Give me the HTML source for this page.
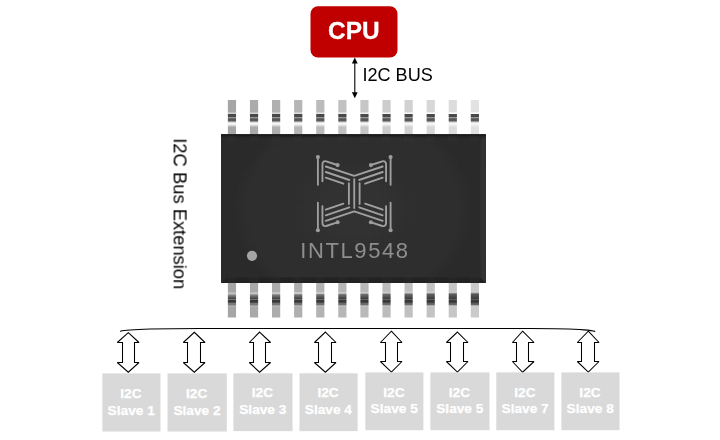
<!DOCTYPE html>
<html><head><meta charset="utf-8"><title>I2C Bus Extension</title>
<style>
html,body{margin:0;padding:0;background:#fff;}
body{width:720px;height:440px;position:relative;overflow:hidden;font-family:"Liberation Sans",sans-serif;}
</style></head><body>
<svg width="720" height="440" viewBox="0 0 720 440" style="position:absolute;left:0;top:0">
<defs>
<filter id="b0" x="-5%" y="-5%" width="110%" height="110%"><feGaussianBlur stdDeviation="0.22"/></filter>
<filter id="b1" x="-20%" y="-20%" width="140%" height="140%"><feGaussianBlur stdDeviation="0.35"/></filter>
<filter id="b2" x="-20%" y="-20%" width="140%" height="140%"><feGaussianBlur stdDeviation="0.5"/></filter>

<linearGradient id="pt0" x1="0" y1="0" x2="0" y2="1"><stop offset="0.0000" stop-color="#a6a6a6"/><stop offset="0.3509" stop-color="#a6a6a6"/><stop offset="0.3772" stop-color="#cecece"/><stop offset="0.4006" stop-color="#cecece"/><stop offset="0.4211" stop-color="#484848"/><stop offset="0.4883" stop-color="#4a4a4a"/><stop offset="0.5058" stop-color="#969696"/><stop offset="0.5292" stop-color="#969696"/><stop offset="0.5468" stop-color="#555"/><stop offset="0.6053" stop-color="#585858"/><stop offset="0.6433" stop-color="#c4c4c4"/><stop offset="0.6813" stop-color="#fbfbfb"/><stop offset="0.7105" stop-color="#f3f3f3"/><stop offset="0.7982" stop-color="#a6a6a6"/><stop offset="1.0000" stop-color="#a6a6a6"/></linearGradient>
<linearGradient id="pt1" x1="0" y1="0" x2="0" y2="1"><stop offset="0.0000" stop-color="#ababab"/><stop offset="0.3509" stop-color="#ababab"/><stop offset="0.3772" stop-color="#d3d3d3"/><stop offset="0.4006" stop-color="#d3d3d3"/><stop offset="0.4211" stop-color="#484848"/><stop offset="0.4883" stop-color="#4a4a4a"/><stop offset="0.5058" stop-color="#969696"/><stop offset="0.5292" stop-color="#969696"/><stop offset="0.5468" stop-color="#555"/><stop offset="0.6053" stop-color="#585858"/><stop offset="0.6433" stop-color="#c4c4c4"/><stop offset="0.6813" stop-color="#fbfbfb"/><stop offset="0.7105" stop-color="#f3f3f3"/><stop offset="0.7982" stop-color="#ababab"/><stop offset="1.0000" stop-color="#ababab"/></linearGradient>
<linearGradient id="pt2" x1="0" y1="0" x2="0" y2="1"><stop offset="0.0000" stop-color="#b0b0b0"/><stop offset="0.3509" stop-color="#b0b0b0"/><stop offset="0.3772" stop-color="#d8d8d8"/><stop offset="0.4006" stop-color="#d8d8d8"/><stop offset="0.4211" stop-color="#484848"/><stop offset="0.4883" stop-color="#4a4a4a"/><stop offset="0.5058" stop-color="#969696"/><stop offset="0.5292" stop-color="#969696"/><stop offset="0.5468" stop-color="#555"/><stop offset="0.6053" stop-color="#585858"/><stop offset="0.6433" stop-color="#c4c4c4"/><stop offset="0.6813" stop-color="#fbfbfb"/><stop offset="0.7105" stop-color="#f3f3f3"/><stop offset="0.7982" stop-color="#b0b0b0"/><stop offset="1.0000" stop-color="#b0b0b0"/></linearGradient>
<linearGradient id="pt3" x1="0" y1="0" x2="0" y2="1"><stop offset="0.0000" stop-color="#b6b6b6"/><stop offset="0.3509" stop-color="#b6b6b6"/><stop offset="0.3772" stop-color="#dedede"/><stop offset="0.4006" stop-color="#dedede"/><stop offset="0.4211" stop-color="#484848"/><stop offset="0.4883" stop-color="#4a4a4a"/><stop offset="0.5058" stop-color="#969696"/><stop offset="0.5292" stop-color="#969696"/><stop offset="0.5468" stop-color="#555"/><stop offset="0.6053" stop-color="#585858"/><stop offset="0.6433" stop-color="#c4c4c4"/><stop offset="0.6813" stop-color="#fbfbfb"/><stop offset="0.7105" stop-color="#f3f3f3"/><stop offset="0.7982" stop-color="#b6b6b6"/><stop offset="1.0000" stop-color="#b6b6b6"/></linearGradient>
<linearGradient id="pt4" x1="0" y1="0" x2="0" y2="1"><stop offset="0.0000" stop-color="#bbbbbb"/><stop offset="0.3509" stop-color="#bbbbbb"/><stop offset="0.3772" stop-color="#e3e3e3"/><stop offset="0.4006" stop-color="#e3e3e3"/><stop offset="0.4211" stop-color="#484848"/><stop offset="0.4883" stop-color="#4a4a4a"/><stop offset="0.5058" stop-color="#969696"/><stop offset="0.5292" stop-color="#969696"/><stop offset="0.5468" stop-color="#555"/><stop offset="0.6053" stop-color="#585858"/><stop offset="0.6433" stop-color="#c4c4c4"/><stop offset="0.6813" stop-color="#fbfbfb"/><stop offset="0.7105" stop-color="#f3f3f3"/><stop offset="0.7982" stop-color="#bbbbbb"/><stop offset="1.0000" stop-color="#bbbbbb"/></linearGradient>
<linearGradient id="pt5" x1="0" y1="0" x2="0" y2="1"><stop offset="0.0000" stop-color="#c1c1c1"/><stop offset="0.3509" stop-color="#c1c1c1"/><stop offset="0.3772" stop-color="#e9e9e9"/><stop offset="0.4006" stop-color="#e9e9e9"/><stop offset="0.4211" stop-color="#484848"/><stop offset="0.4883" stop-color="#4a4a4a"/><stop offset="0.5058" stop-color="#969696"/><stop offset="0.5292" stop-color="#969696"/><stop offset="0.5468" stop-color="#555"/><stop offset="0.6053" stop-color="#585858"/><stop offset="0.6433" stop-color="#c4c4c4"/><stop offset="0.6813" stop-color="#fbfbfb"/><stop offset="0.7105" stop-color="#f3f3f3"/><stop offset="0.7982" stop-color="#c1c1c1"/><stop offset="1.0000" stop-color="#c1c1c1"/></linearGradient>
<linearGradient id="pt6" x1="0" y1="0" x2="0" y2="1"><stop offset="0.0000" stop-color="#c6c6c6"/><stop offset="0.3509" stop-color="#c6c6c6"/><stop offset="0.3772" stop-color="#eeeeee"/><stop offset="0.4006" stop-color="#eeeeee"/><stop offset="0.4211" stop-color="#484848"/><stop offset="0.4883" stop-color="#4a4a4a"/><stop offset="0.5058" stop-color="#969696"/><stop offset="0.5292" stop-color="#969696"/><stop offset="0.5468" stop-color="#555"/><stop offset="0.6053" stop-color="#585858"/><stop offset="0.6433" stop-color="#c4c4c4"/><stop offset="0.6813" stop-color="#fbfbfb"/><stop offset="0.7105" stop-color="#f3f3f3"/><stop offset="0.7982" stop-color="#c6c6c6"/><stop offset="1.0000" stop-color="#c6c6c6"/></linearGradient>
<linearGradient id="pt7" x1="0" y1="0" x2="0" y2="1"><stop offset="0.0000" stop-color="#cccccc"/><stop offset="0.3509" stop-color="#cccccc"/><stop offset="0.3772" stop-color="#f4f4f4"/><stop offset="0.4006" stop-color="#f4f4f4"/><stop offset="0.4211" stop-color="#484848"/><stop offset="0.4883" stop-color="#4a4a4a"/><stop offset="0.5058" stop-color="#969696"/><stop offset="0.5292" stop-color="#969696"/><stop offset="0.5468" stop-color="#555"/><stop offset="0.6053" stop-color="#585858"/><stop offset="0.6433" stop-color="#c4c4c4"/><stop offset="0.6813" stop-color="#fbfbfb"/><stop offset="0.7105" stop-color="#f3f3f3"/><stop offset="0.7982" stop-color="#cccccc"/><stop offset="1.0000" stop-color="#cccccc"/></linearGradient>
<linearGradient id="pt8" x1="0" y1="0" x2="0" y2="1"><stop offset="0.0000" stop-color="#d1d1d1"/><stop offset="0.3509" stop-color="#d1d1d1"/><stop offset="0.3772" stop-color="#f9f9f9"/><stop offset="0.4006" stop-color="#f9f9f9"/><stop offset="0.4211" stop-color="#484848"/><stop offset="0.4883" stop-color="#4a4a4a"/><stop offset="0.5058" stop-color="#969696"/><stop offset="0.5292" stop-color="#969696"/><stop offset="0.5468" stop-color="#555"/><stop offset="0.6053" stop-color="#585858"/><stop offset="0.6433" stop-color="#c4c4c4"/><stop offset="0.6813" stop-color="#fbfbfb"/><stop offset="0.7105" stop-color="#f3f3f3"/><stop offset="0.7982" stop-color="#d1d1d1"/><stop offset="1.0000" stop-color="#d1d1d1"/></linearGradient>
<linearGradient id="pt9" x1="0" y1="0" x2="0" y2="1"><stop offset="0.0000" stop-color="#d7d7d7"/><stop offset="0.3509" stop-color="#d7d7d7"/><stop offset="0.3772" stop-color="#ffffff"/><stop offset="0.4006" stop-color="#ffffff"/><stop offset="0.4211" stop-color="#484848"/><stop offset="0.4883" stop-color="#4a4a4a"/><stop offset="0.5058" stop-color="#969696"/><stop offset="0.5292" stop-color="#969696"/><stop offset="0.5468" stop-color="#555"/><stop offset="0.6053" stop-color="#585858"/><stop offset="0.6433" stop-color="#c4c4c4"/><stop offset="0.6813" stop-color="#fbfbfb"/><stop offset="0.7105" stop-color="#f3f3f3"/><stop offset="0.7982" stop-color="#d7d7d7"/><stop offset="1.0000" stop-color="#d7d7d7"/></linearGradient>
<linearGradient id="pt10" x1="0" y1="0" x2="0" y2="1"><stop offset="0.0000" stop-color="#dcdcdc"/><stop offset="0.3509" stop-color="#dcdcdc"/><stop offset="0.3772" stop-color="#ffffff"/><stop offset="0.4006" stop-color="#ffffff"/><stop offset="0.4211" stop-color="#484848"/><stop offset="0.4883" stop-color="#4a4a4a"/><stop offset="0.5058" stop-color="#969696"/><stop offset="0.5292" stop-color="#969696"/><stop offset="0.5468" stop-color="#555"/><stop offset="0.6053" stop-color="#585858"/><stop offset="0.6433" stop-color="#c4c4c4"/><stop offset="0.6813" stop-color="#fbfbfb"/><stop offset="0.7105" stop-color="#f3f3f3"/><stop offset="0.7982" stop-color="#dcdcdc"/><stop offset="1.0000" stop-color="#dcdcdc"/></linearGradient>
<linearGradient id="pt11" x1="0" y1="0" x2="0" y2="1"><stop offset="0.0000" stop-color="#e2e2e2"/><stop offset="0.3509" stop-color="#e2e2e2"/><stop offset="0.3772" stop-color="#ffffff"/><stop offset="0.4006" stop-color="#ffffff"/><stop offset="0.4211" stop-color="#484848"/><stop offset="0.4883" stop-color="#4a4a4a"/><stop offset="0.5058" stop-color="#969696"/><stop offset="0.5292" stop-color="#969696"/><stop offset="0.5468" stop-color="#555"/><stop offset="0.6053" stop-color="#585858"/><stop offset="0.6433" stop-color="#c4c4c4"/><stop offset="0.6813" stop-color="#fbfbfb"/><stop offset="0.7105" stop-color="#f3f3f3"/><stop offset="0.7982" stop-color="#e2e2e2"/><stop offset="1.0000" stop-color="#e2e2e2"/></linearGradient>
<linearGradient id="pb0" x1="0" y1="0" x2="0" y2="1"><stop offset="0.0000" stop-color="#a6a6a6"/><stop offset="0.2817" stop-color="#a6a6a6"/><stop offset="0.3042" stop-color="#c2c2c2"/><stop offset="0.3380" stop-color="#c2c2c2"/><stop offset="0.3662" stop-color="#8a8a8a"/><stop offset="0.4676" stop-color="#464646"/><stop offset="0.4930" stop-color="#747474"/><stop offset="0.5183" stop-color="#3a3a3a"/><stop offset="0.5690" stop-color="#343434"/><stop offset="0.5887" stop-color="#777777"/><stop offset="0.6535" stop-color="#7c7c7c"/><stop offset="0.6732" stop-color="#c2c2c2"/><stop offset="0.6986" stop-color="#a6a6a6"/><stop offset="1.0000" stop-color="#a6a6a6"/></linearGradient>
<linearGradient id="pb1" x1="0" y1="0" x2="0" y2="1"><stop offset="0.0000" stop-color="#a9a9a9"/><stop offset="0.2791" stop-color="#a9a9a9"/><stop offset="0.3012" stop-color="#c5c5c5"/><stop offset="0.3337" stop-color="#c5c5c5"/><stop offset="0.3636" stop-color="#858585"/><stop offset="0.4676" stop-color="#454545"/><stop offset="0.4930" stop-color="#717171"/><stop offset="0.5183" stop-color="#3a3a3a"/><stop offset="0.5690" stop-color="#343434"/><stop offset="0.5887" stop-color="#737373"/><stop offset="0.6520" stop-color="#7a7a7a"/><stop offset="0.6732" stop-color="#c5c5c5"/><stop offset="0.6986" stop-color="#a9a9a9"/><stop offset="1.0000" stop-color="#a9a9a9"/></linearGradient>
<linearGradient id="pb2" x1="0" y1="0" x2="0" y2="1"><stop offset="0.0000" stop-color="#acacac"/><stop offset="0.2766" stop-color="#acacac"/><stop offset="0.2981" stop-color="#c8c8c8"/><stop offset="0.3293" stop-color="#c8c8c8"/><stop offset="0.3611" stop-color="#818181"/><stop offset="0.4676" stop-color="#444444"/><stop offset="0.4930" stop-color="#6f6f6f"/><stop offset="0.5183" stop-color="#3a3a3a"/><stop offset="0.5690" stop-color="#343434"/><stop offset="0.5887" stop-color="#707070"/><stop offset="0.6504" stop-color="#787878"/><stop offset="0.6732" stop-color="#c8c8c8"/><stop offset="0.6986" stop-color="#acacac"/><stop offset="1.0000" stop-color="#acacac"/></linearGradient>
<linearGradient id="pb3" x1="0" y1="0" x2="0" y2="1"><stop offset="0.0000" stop-color="#afafaf"/><stop offset="0.2740" stop-color="#afafaf"/><stop offset="0.2950" stop-color="#cbcbcb"/><stop offset="0.3250" stop-color="#cbcbcb"/><stop offset="0.3585" stop-color="#7c7c7c"/><stop offset="0.4676" stop-color="#434343"/><stop offset="0.4930" stop-color="#6c6c6c"/><stop offset="0.5183" stop-color="#3a3a3a"/><stop offset="0.5690" stop-color="#343434"/><stop offset="0.5887" stop-color="#6d6d6d"/><stop offset="0.6489" stop-color="#767676"/><stop offset="0.6732" stop-color="#cbcbcb"/><stop offset="0.6986" stop-color="#afafaf"/><stop offset="1.0000" stop-color="#afafaf"/></linearGradient>
<linearGradient id="pb4" x1="0" y1="0" x2="0" y2="1"><stop offset="0.0000" stop-color="#b3b3b3"/><stop offset="0.2714" stop-color="#b3b3b3"/><stop offset="0.2919" stop-color="#cccccc"/><stop offset="0.3206" stop-color="#cccccc"/><stop offset="0.3560" stop-color="#787878"/><stop offset="0.4676" stop-color="#424242"/><stop offset="0.4930" stop-color="#6a6a6a"/><stop offset="0.5183" stop-color="#3a3a3a"/><stop offset="0.5690" stop-color="#343434"/><stop offset="0.5887" stop-color="#6a6a6a"/><stop offset="0.6474" stop-color="#747474"/><stop offset="0.6732" stop-color="#cccccc"/><stop offset="0.6986" stop-color="#b3b3b3"/><stop offset="1.0000" stop-color="#b3b3b3"/></linearGradient>
<linearGradient id="pb5" x1="0" y1="0" x2="0" y2="1"><stop offset="0.0000" stop-color="#b6b6b6"/><stop offset="0.2689" stop-color="#b6b6b6"/><stop offset="0.2889" stop-color="#cccccc"/><stop offset="0.3163" stop-color="#cccccc"/><stop offset="0.3534" stop-color="#747474"/><stop offset="0.4676" stop-color="#414141"/><stop offset="0.4930" stop-color="#686868"/><stop offset="0.5183" stop-color="#3a3a3a"/><stop offset="0.5690" stop-color="#343434"/><stop offset="0.5887" stop-color="#676767"/><stop offset="0.6458" stop-color="#727272"/><stop offset="0.6732" stop-color="#cccccc"/><stop offset="0.6986" stop-color="#b6b6b6"/><stop offset="1.0000" stop-color="#b6b6b6"/></linearGradient>
<linearGradient id="pb6" x1="0" y1="0" x2="0" y2="1"><stop offset="0.0000" stop-color="#b9b9b9"/><stop offset="0.2663" stop-color="#b9b9b9"/><stop offset="0.2858" stop-color="#cccccc"/><stop offset="0.3119" stop-color="#cccccc"/><stop offset="0.3508" stop-color="#6f6f6f"/><stop offset="0.4676" stop-color="#404040"/><stop offset="0.4930" stop-color="#656565"/><stop offset="0.5183" stop-color="#3a3a3a"/><stop offset="0.5690" stop-color="#343434"/><stop offset="0.5887" stop-color="#646464"/><stop offset="0.6443" stop-color="#707070"/><stop offset="0.6732" stop-color="#cccccc"/><stop offset="0.6986" stop-color="#b9b9b9"/><stop offset="1.0000" stop-color="#b9b9b9"/></linearGradient>
<linearGradient id="pb7" x1="0" y1="0" x2="0" y2="1"><stop offset="0.0000" stop-color="#bcbcbc"/><stop offset="0.2638" stop-color="#bcbcbc"/><stop offset="0.2827" stop-color="#cccccc"/><stop offset="0.3076" stop-color="#cccccc"/><stop offset="0.3483" stop-color="#6b6b6b"/><stop offset="0.4676" stop-color="#3f3f3f"/><stop offset="0.4930" stop-color="#636363"/><stop offset="0.5183" stop-color="#3a3a3a"/><stop offset="0.5690" stop-color="#343434"/><stop offset="0.5887" stop-color="#616161"/><stop offset="0.6428" stop-color="#6e6e6e"/><stop offset="0.6732" stop-color="#cccccc"/><stop offset="0.6986" stop-color="#bcbcbc"/><stop offset="1.0000" stop-color="#bcbcbc"/></linearGradient>
<linearGradient id="pb8" x1="0" y1="0" x2="0" y2="1"><stop offset="0.0000" stop-color="#c0c0c0"/><stop offset="0.2612" stop-color="#c0c0c0"/><stop offset="0.2796" stop-color="#cccccc"/><stop offset="0.3032" stop-color="#cccccc"/><stop offset="0.3457" stop-color="#676767"/><stop offset="0.4676" stop-color="#3e3e3e"/><stop offset="0.4930" stop-color="#616161"/><stop offset="0.5183" stop-color="#3a3a3a"/><stop offset="0.5690" stop-color="#343434"/><stop offset="0.5887" stop-color="#5e5e5e"/><stop offset="0.6412" stop-color="#6c6c6c"/><stop offset="0.6732" stop-color="#cccccc"/><stop offset="0.6986" stop-color="#c0c0c0"/><stop offset="1.0000" stop-color="#c0c0c0"/></linearGradient>
<linearGradient id="pb9" x1="0" y1="0" x2="0" y2="1"><stop offset="0.0000" stop-color="#c3c3c3"/><stop offset="0.2586" stop-color="#c3c3c3"/><stop offset="0.2766" stop-color="#cccccc"/><stop offset="0.2988" stop-color="#cccccc"/><stop offset="0.3431" stop-color="#626262"/><stop offset="0.4676" stop-color="#3d3d3d"/><stop offset="0.4930" stop-color="#5e5e5e"/><stop offset="0.5183" stop-color="#3a3a3a"/><stop offset="0.5690" stop-color="#343434"/><stop offset="0.5887" stop-color="#5b5b5b"/><stop offset="0.6397" stop-color="#6a6a6a"/><stop offset="0.6732" stop-color="#cccccc"/><stop offset="0.6986" stop-color="#c3c3c3"/><stop offset="1.0000" stop-color="#c3c3c3"/></linearGradient>
<linearGradient id="pb10" x1="0" y1="0" x2="0" y2="1"><stop offset="0.0000" stop-color="#c6c6c6"/><stop offset="0.2561" stop-color="#c6c6c6"/><stop offset="0.2735" stop-color="#cccccc"/><stop offset="0.2945" stop-color="#cccccc"/><stop offset="0.3406" stop-color="#5e5e5e"/><stop offset="0.4676" stop-color="#3c3c3c"/><stop offset="0.4930" stop-color="#5c5c5c"/><stop offset="0.5183" stop-color="#3a3a3a"/><stop offset="0.5690" stop-color="#343434"/><stop offset="0.5887" stop-color="#585858"/><stop offset="0.6382" stop-color="#686868"/><stop offset="0.6732" stop-color="#cccccc"/><stop offset="0.6986" stop-color="#c6c6c6"/><stop offset="1.0000" stop-color="#c6c6c6"/></linearGradient>
<linearGradient id="pb11" x1="0" y1="0" x2="0" y2="1"><stop offset="0.0000" stop-color="#cacaca"/><stop offset="0.2535" stop-color="#cacaca"/><stop offset="0.2704" stop-color="#cccccc"/><stop offset="0.2901" stop-color="#cccccc"/><stop offset="0.3380" stop-color="#5a5a5a"/><stop offset="0.4676" stop-color="#3c3c3c"/><stop offset="0.4930" stop-color="#5a5a5a"/><stop offset="0.5183" stop-color="#3a3a3a"/><stop offset="0.5690" stop-color="#343434"/><stop offset="0.5887" stop-color="#555555"/><stop offset="0.6366" stop-color="#666666"/><stop offset="0.6732" stop-color="#cccccc"/><stop offset="0.6986" stop-color="#cacaca"/><stop offset="1.0000" stop-color="#cacaca"/></linearGradient>
<linearGradient id="topg" x1="0" y1="0" x2="0" y2="1"><stop offset="0" stop-color="#1a1a1a" stop-opacity="1"/><stop offset="0.3" stop-color="#1c1c1c" stop-opacity="0.85"/><stop offset="1" stop-color="#222" stop-opacity="0"/></linearGradient>
<radialGradient id="chipg" cx="0.5" cy="0.5" r="0.62" gradientTransform="translate(0.5 0.5) scale(1 1.5) translate(-0.5 -0.5)">
<stop offset="0" stop-color="#313131"/><stop offset="0.55" stop-color="#2e2e2e"/><stop offset="1" stop-color="#292929"/></radialGradient>
</defs>
<rect x="310.5" y="6.3" width="87" height="51.2" rx="7.5" ry="7.5" fill="#c00000"/>
<text x="353.8" y="38.75" font-family="Liberation Sans, sans-serif" font-weight="bold" font-size="24.4" fill="#fff" stroke="#fff" stroke-width="0.3" text-anchor="middle" filter="url(#b0)">CPU</text>
<line x1="354.8" y1="62" x2="354.8" y2="94" stroke="#000" stroke-width="1.1"/>
<path d="M354.8 57.6 L351.9 63.4 L357.7 63.4 Z" fill="#000"/>
<path d="M354.8 98.2 L351.9 92.2 L357.7 92.2 Z" fill="#000"/>
<text x="362.4" y="80.7" font-family="Liberation Sans, sans-serif" font-size="18.1" fill="#000" filter="url(#b0)">I2C BUS</text>
<g filter="url(#b1)">
<rect x="227.85" y="100" width="8.2" height="34.2" fill="url(#pt0)"/>
<rect x="249.94" y="100" width="8.2" height="34.2" fill="url(#pt1)"/>
<rect x="272.02" y="100" width="8.2" height="34.2" fill="url(#pt2)"/>
<rect x="294.11" y="100" width="8.2" height="34.2" fill="url(#pt3)"/>
<rect x="316.19" y="100" width="8.2" height="34.2" fill="url(#pt4)"/>
<rect x="338.27" y="100" width="8.2" height="34.2" fill="url(#pt5)"/>
<rect x="360.36" y="100" width="8.2" height="34.2" fill="url(#pt6)"/>
<rect x="382.44" y="100" width="8.2" height="34.2" fill="url(#pt7)"/>
<rect x="404.53" y="100" width="8.2" height="34.2" fill="url(#pt8)"/>
<rect x="426.62" y="100" width="8.2" height="34.2" fill="url(#pt9)"/>
<rect x="448.70" y="100" width="8.2" height="34.2" fill="url(#pt10)"/>
<rect x="470.78" y="100" width="8.2" height="34.2" fill="url(#pt11)"/>
<rect x="227.85" y="282" width="8.2" height="35.5" fill="url(#pb0)"/>
<rect x="249.94" y="282" width="8.2" height="35.5" fill="url(#pb1)"/>
<rect x="272.02" y="282" width="8.2" height="35.5" fill="url(#pb2)"/>
<rect x="294.11" y="282" width="8.2" height="35.5" fill="url(#pb3)"/>
<rect x="316.19" y="282" width="8.2" height="35.5" fill="url(#pb4)"/>
<rect x="338.27" y="282" width="8.2" height="35.5" fill="url(#pb5)"/>
<rect x="360.36" y="282" width="8.2" height="35.5" fill="url(#pb6)"/>
<rect x="382.44" y="282" width="8.2" height="35.5" fill="url(#pb7)"/>
<rect x="404.53" y="282" width="8.2" height="35.5" fill="url(#pb8)"/>
<rect x="426.62" y="282" width="8.2" height="35.5" fill="url(#pb9)"/>
<rect x="448.70" y="282" width="8.2" height="35.5" fill="url(#pb10)"/>
<rect x="470.78" y="282" width="8.2" height="35.5" fill="url(#pb11)"/>
</g>
<g filter="url(#b1)">
<rect x="221" y="134.2" width="264.9" height="148.8" fill="url(#chipg)"/>
<path d="M221 283 L485.9 283 L480.4 277.6 L226.5 277.6 Z" fill="#232323"/>
<path d="M485.9 134.2 L485.9 283 L480.4 277.6 L480.4 139 Z" fill="#303030"/>
<path d="M221 134.2 L221 283 L226.5 277.6 L226.5 139 Z" fill="#292929"/>
<rect x="221" y="134.2" width="264.9" height="4.5" fill="url(#topg)"/>
</g>
<rect x="227.35" y="135.6" width="8.8" height="6" fill="#3a3a3a" opacity="0.22" filter="url(#b2)"/>
<rect x="249.44" y="135.6" width="8.8" height="6" fill="#3a3a3a" opacity="0.22" filter="url(#b2)"/>
<rect x="271.52" y="135.6" width="8.8" height="6" fill="#3a3a3a" opacity="0.22" filter="url(#b2)"/>
<rect x="293.61" y="135.6" width="8.8" height="6" fill="#3a3a3a" opacity="0.22" filter="url(#b2)"/>
<rect x="315.69" y="135.6" width="8.8" height="6" fill="#3a3a3a" opacity="0.22" filter="url(#b2)"/>
<rect x="337.77" y="135.6" width="8.8" height="6" fill="#3a3a3a" opacity="0.22" filter="url(#b2)"/>
<rect x="359.86" y="135.6" width="8.8" height="6" fill="#3a3a3a" opacity="0.22" filter="url(#b2)"/>
<rect x="381.94" y="135.6" width="8.8" height="6" fill="#3a3a3a" opacity="0.22" filter="url(#b2)"/>
<rect x="404.03" y="135.6" width="8.8" height="6" fill="#3a3a3a" opacity="0.22" filter="url(#b2)"/>
<rect x="426.12" y="135.6" width="8.8" height="6" fill="#3a3a3a" opacity="0.22" filter="url(#b2)"/>
<rect x="448.20" y="135.6" width="8.8" height="6" fill="#3a3a3a" opacity="0.22" filter="url(#b2)"/>
<rect x="470.28" y="135.6" width="8.8" height="6" fill="#3a3a3a" opacity="0.22" filter="url(#b2)"/>
<rect x="227.35" y="277" width="8.8" height="5.5" fill="#363636" opacity="0.2" filter="url(#b2)"/>
<rect x="249.44" y="277" width="8.8" height="5.5" fill="#363636" opacity="0.2" filter="url(#b2)"/>
<rect x="271.52" y="277" width="8.8" height="5.5" fill="#363636" opacity="0.2" filter="url(#b2)"/>
<rect x="293.61" y="277" width="8.8" height="5.5" fill="#363636" opacity="0.2" filter="url(#b2)"/>
<rect x="315.69" y="277" width="8.8" height="5.5" fill="#363636" opacity="0.2" filter="url(#b2)"/>
<rect x="337.77" y="277" width="8.8" height="5.5" fill="#363636" opacity="0.2" filter="url(#b2)"/>
<rect x="359.86" y="277" width="8.8" height="5.5" fill="#363636" opacity="0.2" filter="url(#b2)"/>
<rect x="381.94" y="277" width="8.8" height="5.5" fill="#363636" opacity="0.2" filter="url(#b2)"/>
<rect x="404.03" y="277" width="8.8" height="5.5" fill="#363636" opacity="0.2" filter="url(#b2)"/>
<rect x="426.12" y="277" width="8.8" height="5.5" fill="#363636" opacity="0.2" filter="url(#b2)"/>
<rect x="448.20" y="277" width="8.8" height="5.5" fill="#363636" opacity="0.2" filter="url(#b2)"/>
<rect x="470.28" y="277" width="8.8" height="5.5" fill="#363636" opacity="0.2" filter="url(#b2)"/>
<circle cx="252.0" cy="255.8" r="5.1" fill="#a5a5a5" filter="url(#b1)"/>
<g filter="url(#b1)">
<path d="M317.90 157.10 L317.90 184.70 M322.45 181.20 L322.45 164.60 Q322.45 160.60 326.20 161.30 L337.40 165.00 M325.80 166.50 L354.25 175.90 M325.80 172.00 L349.30 180.00 M325.80 177.60 L343.40 183.70 M348.90 183.20 L348.90 193.65 M317.90 230.20 L317.90 202.60 M322.45 206.10 L322.45 222.70 Q322.45 226.70 326.20 226.00 L337.40 222.30 M325.80 220.80 L354.25 211.40 M325.80 215.30 L349.30 207.30 M325.80 209.70 L343.40 203.60 M348.90 204.10 L348.90 193.65 M390.60 157.10 L390.60 184.70 M386.05 181.20 L386.05 164.60 Q386.05 160.60 382.30 161.30 L371.10 165.00 M382.70 166.50 L354.25 175.90 M382.70 172.00 L359.20 180.00 M382.70 177.60 L365.10 183.70 M359.60 183.20 L359.60 193.65 M390.60 230.20 L390.60 202.60 M386.05 206.10 L386.05 222.70 Q386.05 226.70 382.30 226.00 L371.10 222.30 M382.70 220.80 L354.25 211.40 M382.70 215.30 L359.20 207.30 M382.70 209.70 L365.10 203.60 M359.60 204.10 L359.60 193.65 M354.25 179.2 L354.25 208.1" fill="none" stroke="#a0a0a0" stroke-width="1.85" stroke-linecap="round" stroke-linejoin="round"/>
<circle cx="317.90" cy="157.10" r="2.05" fill="#9c9c9c"/>
<circle cx="337.60" cy="165.10" r="2.05" fill="#9c9c9c"/>
<circle cx="317.90" cy="230.20" r="2.05" fill="#9c9c9c"/>
<circle cx="337.60" cy="222.20" r="2.05" fill="#9c9c9c"/>
<circle cx="390.60" cy="157.10" r="2.05" fill="#9c9c9c"/>
<circle cx="370.90" cy="165.10" r="2.05" fill="#9c9c9c"/>
<circle cx="390.60" cy="230.20" r="2.05" fill="#9c9c9c"/>
<circle cx="370.90" cy="222.20" r="2.05" fill="#9c9c9c"/>
</g>
<text x="355" y="257.8" font-family="Liberation Sans, sans-serif" font-size="22" fill="#8e8e8e" text-anchor="middle" letter-spacing="1.6" filter="url(#b1)">INTL9548</text>
<text transform="translate(173.6,138.3) rotate(90)" font-family="Liberation Sans, sans-serif" font-size="18.37" fill="#000" filter="url(#b0)">I2C Bus Extension</text>
<path d="M120.4 331.2 C124 330.2 135 329.5 150 329.05 C165 328.65 180 328.5 200 328.5 L530 328.5 C555 328.5 572 328.9 584 329.9 C590 330.4 593 330.8 594.7 331.4" fill="none" stroke="#000" stroke-width="1.15" stroke-linecap="round"/>
<path d="M128.3 332.65 L139.0 342.5 L134.5 342.5 L134.5 362.5 L139.0 362.5 L128.3 372.25 L117.3 362.5 L122.5 362.5 L122.5 342.5 L117.3 342.5 Z" fill="#fff" stroke="#000" stroke-width="1.05" stroke-linejoin="miter" stroke-miterlimit="2"/>
<path d="M194.3 332.25 L205.0 342.5 L200.5 342.5 L200.5 362.5 L205.0 362.5 L194.3 372.25 L183.3 362.5 L187.5 362.5 L187.5 342.5 L183.3 342.5 Z" fill="#fff" stroke="#000" stroke-width="1.05" stroke-linejoin="miter" stroke-miterlimit="2"/>
<path d="M259.6 332.04999999999995 L270.6 342.5 L265.5 342.5 L265.5 362.5 L270.6 362.5 L259.6 372.25 L249.3 362.5 L253.5 362.5 L253.5 342.5 L249.3 342.5 Z" fill="#fff" stroke="#000" stroke-width="1.05" stroke-linejoin="miter" stroke-miterlimit="2"/>
<path d="M325.4 332.04999999999995 L336.0 342.5 L331.5 342.5 L331.5 362.5 L336.0 362.5 L325.4 372.25 L314.4 362.5 L318.5 362.5 L318.5 342.5 L314.4 342.5 Z" fill="#fff" stroke="#000" stroke-width="1.05" stroke-linejoin="miter" stroke-miterlimit="2"/>
<path d="M391.4 331.15 L402.0 342.5 L397.5 342.5 L397.5 361.5 L402.0 361.5 L391.4 372.05 L380.4 361.5 L385.5 361.5 L385.5 342.5 L380.4 342.5 Z" fill="#fff" stroke="#000" stroke-width="1.05" stroke-linejoin="miter" stroke-miterlimit="2"/>
<path d="M457.4 332.04999999999995 L468.0 342.5 L463.5 342.5 L463.5 361.5 L468.0 361.5 L457.4 372.05 L446.4 361.5 L450.5 361.5 L450.5 342.5 L446.4 342.5 Z" fill="#fff" stroke="#000" stroke-width="1.05" stroke-linejoin="miter" stroke-miterlimit="2"/>
<path d="M522.6 331.15 L534.0 342.5 L528.5 342.5 L528.5 361.5 L534.0 361.5 L522.6 372.25 L512.4 361.5 L516.5 361.5 L516.5 342.5 L512.4 342.5 Z" fill="#fff" stroke="#000" stroke-width="1.05" stroke-linejoin="miter" stroke-miterlimit="2"/>
<path d="M588.3 331.15 L599.0 342.5 L594.5 342.5 L594.5 361.5 L599.0 361.5 L588.3 372.05 L577.3 361.5 L581.5 361.5 L581.5 342.5 L577.3 342.5 Z" fill="#fff" stroke="#000" stroke-width="1.05" stroke-linejoin="miter" stroke-miterlimit="2"/>
<rect x="102.4" y="373.4" width="58.1" height="58.1" fill="#d9d9d9"/>
<text x="130.9" y="398.2" font-family="Liberation Sans, sans-serif" font-weight="bold" font-size="13.7" fill="#fff" stroke="#fff" stroke-width="0.25" text-anchor="middle">I2C</text>
<text x="131.2" y="414.9" font-family="Liberation Sans, sans-serif" font-weight="bold" font-size="13.7" fill="#fff" stroke="#fff" stroke-width="0.25" text-anchor="middle">Slave 1</text>
<rect x="167.5" y="373.4" width="59.3" height="58.1" fill="#d9d9d9"/>
<text x="196.7" y="398.2" font-family="Liberation Sans, sans-serif" font-weight="bold" font-size="13.7" fill="#fff" stroke="#fff" stroke-width="0.25" text-anchor="middle">I2C</text>
<text x="197.0" y="414.9" font-family="Liberation Sans, sans-serif" font-weight="bold" font-size="13.7" fill="#fff" stroke="#fff" stroke-width="0.25" text-anchor="middle">Slave 2</text>
<rect x="233.4" y="373.3" width="59.1" height="57.8" fill="#d9d9d9"/>
<text x="262.4" y="397.2" font-family="Liberation Sans, sans-serif" font-weight="bold" font-size="13.7" fill="#fff" stroke="#fff" stroke-width="0.25" text-anchor="middle">I2C</text>
<text x="262.8" y="413.9" font-family="Liberation Sans, sans-serif" font-weight="bold" font-size="13.7" fill="#fff" stroke="#fff" stroke-width="0.25" text-anchor="middle">Slave 3</text>
<rect x="299.5" y="373.3" width="58.1" height="57.8" fill="#d9d9d9"/>
<text x="328.1" y="397.2" font-family="Liberation Sans, sans-serif" font-weight="bold" font-size="13.7" fill="#fff" stroke="#fff" stroke-width="0.25" text-anchor="middle">I2C</text>
<text x="328.4" y="413.9" font-family="Liberation Sans, sans-serif" font-weight="bold" font-size="13.7" fill="#fff" stroke="#fff" stroke-width="0.25" text-anchor="middle">Slave 4</text>
<rect x="365.3" y="372.4" width="58.1" height="57.8" fill="#d9d9d9"/>
<text x="393.9" y="396.6" font-family="Liberation Sans, sans-serif" font-weight="bold" font-size="13.7" fill="#fff" stroke="#fff" stroke-width="0.25" text-anchor="middle">I2C</text>
<text x="394.2" y="413.3" font-family="Liberation Sans, sans-serif" font-weight="bold" font-size="13.7" fill="#fff" stroke="#fff" stroke-width="0.25" text-anchor="middle">Slave 5</text>
<rect x="430.4" y="372.4" width="59.1" height="57.8" fill="#d9d9d9"/>
<text x="459.4" y="396.6" font-family="Liberation Sans, sans-serif" font-weight="bold" font-size="13.7" fill="#fff" stroke="#fff" stroke-width="0.25" text-anchor="middle">I2C</text>
<text x="459.8" y="413.3" font-family="Liberation Sans, sans-serif" font-weight="bold" font-size="13.7" fill="#fff" stroke="#fff" stroke-width="0.25" text-anchor="middle">Slave 5</text>
<rect x="496.3" y="372.4" width="58.1" height="57.8" fill="#d9d9d9"/>
<text x="524.9" y="396.6" font-family="Liberation Sans, sans-serif" font-weight="bold" font-size="13.7" fill="#fff" stroke="#fff" stroke-width="0.25" text-anchor="middle">I2C</text>
<text x="525.1" y="413.3" font-family="Liberation Sans, sans-serif" font-weight="bold" font-size="13.7" fill="#fff" stroke="#fff" stroke-width="0.25" text-anchor="middle">Slave 7</text>
<rect x="561.4" y="372.4" width="58.1" height="57.8" fill="#d9d9d9"/>
<text x="590.0" y="396.6" font-family="Liberation Sans, sans-serif" font-weight="bold" font-size="13.7" fill="#fff" stroke="#fff" stroke-width="0.25" text-anchor="middle">I2C</text>
<text x="590.2" y="413.3" font-family="Liberation Sans, sans-serif" font-weight="bold" font-size="13.7" fill="#fff" stroke="#fff" stroke-width="0.25" text-anchor="middle">Slave 8</text>
</svg>
</body></html>
